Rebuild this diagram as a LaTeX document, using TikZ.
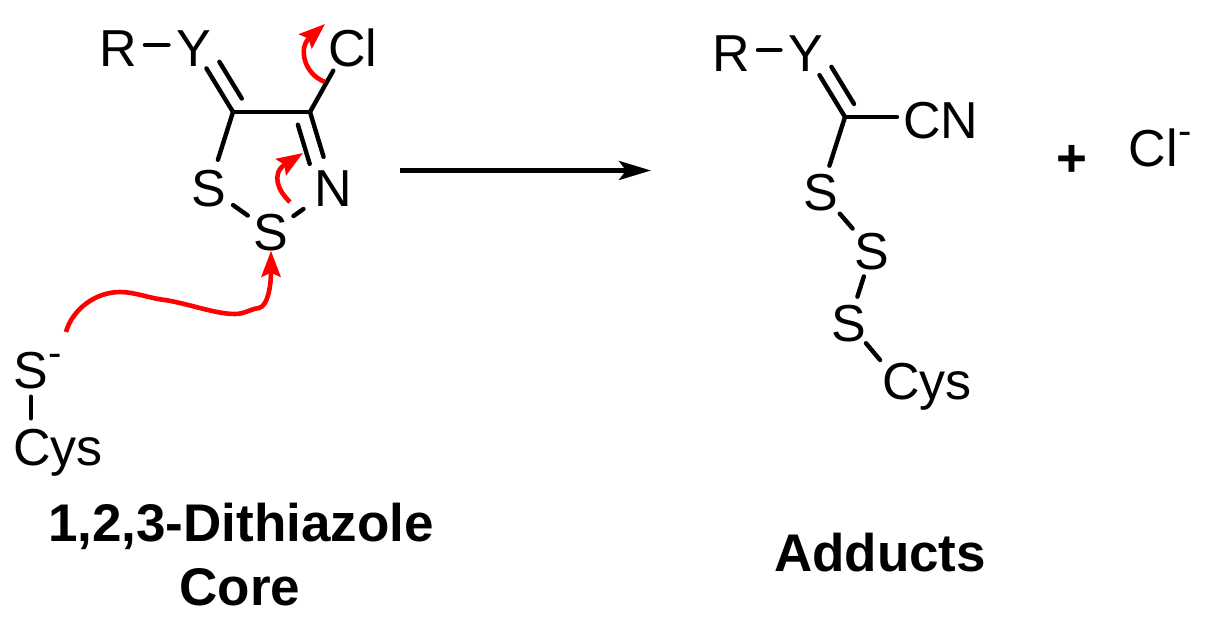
\documentclass[tikz,border=0pt]{standalone}
\usepackage{fontspec}
\setmainfont{Liberation Sans}
\usetikzlibrary{arrows.meta}
\definecolor{mechred}{RGB}{255,0,0}
\tikzset{
  atom/.style={font=\fontsize{52}{52}\selectfont, inner sep=0pt, text height=37pt, text depth=0pt},
  chain/.style={atom, anchor=west},
  charge/.style={font=\fontsize{40}{40}\selectfont, inner sep=0pt, anchor=base},
  caption/.style={font=\fontsize{53}{53}\selectfont\bfseries, inner sep=0pt, anchor=base},
  bond/.style={line width=4.4pt, line cap=round},
  pushred/.style={draw=mechred, line width=4.6pt, -{Stealth[length=26pt,width=19pt,inset=4pt]}},
  reactarrow/.style={draw=black, line width=4.4pt, -{Stealth[length=32pt,width=19pt,inset=7pt]}}
}
\begin{document}
\begin{tikzpicture}[x=1pt,y=-1pt]
\useasboundingbox (0,0) rectangle (1231,626);
% left structure
\node[atom] (R1) at (118,48) {R};
\node[atom] (Y1) at (194,48) {Y};
\node[atom] (Cl1) at (353,48) {Cl};
\node[atom] (S1) at (209,188) {S};
\node[atom] (N1) at (333,188) {N};
\node[atom] (S2) at (271,232) {S};
\node[atom] (Sm) at (31,370) {S};
\node[charge] (Smq) at (55.5,366) {-};
\node[chain] (Cys1) at (13,447) {Cys};
\coordinate (C1) at (233,112);
\coordinate (C2) at (310,112);
\draw[bond,shorten <=8pt,shorten >=8pt] ([yshift=3pt]R1.east) -- ([yshift=3pt]Y1.west);
\draw[bond,shorten >=2pt] (C1) -- (Y1);
\draw[bond,shorten <=7pt,shorten >=25pt] ([shift={(12.4pt,7.5pt)}]C1) -- ([shift={(12.4pt,7.5pt)}]Y1.center);
\draw[bond] (C1) -- (C2);
\draw[bond,shorten >=26pt] (C2) -- ([xshift=-7pt]Cl1.center);
\draw[bond,shorten >=13pt] (C2) -- (N1);
\draw[bond,shorten <=8.5pt,shorten >=30pt] ([shift={(-14.6pt,-4.6pt)}]C2) -- ([shift={(-14.6pt,-4.6pt)}]N1.center);
\draw[bond,shorten >=10pt] (C1) -- (S1);
\draw[bond,shorten <=8pt,shorten >=7pt] (S1) -- (S2);
\draw[bond,shorten <=6pt,shorten >=13pt] (S2) -- (N1);
\draw[bond,shorten <=8pt,shorten >=10pt] (Sm) -- (Sm |- Cys1.north);
% electron pushing
\coordinate (ClTip) at (325,24);
\coordinate (ClStart) at (325,82);
\coordinate (NTip) at (303,153);
\coordinate (NStart) at (290,202);
\coordinate (SStart) at (66,332);
\draw[pushred] (ClStart) .. controls (304,74) and (298,48) .. (ClTip);
\draw[pushred] (NStart) .. controls (279,192) and (270,174) .. (NTip);
\draw[pushred] (SStart) .. controls (72,310) and (95,292) .. (120,292)
  .. controls (135,292) and (148,298) .. (165,300)
  .. controls (190,304) and (215,314) .. (235,314)
  .. controls (245,314) and (250,309) .. (259,308)
  .. controls (268,306) and (271,285) .. (S2.south);
% reaction arrow
\coordinate (ArrowFrom) at (400,170.5);
\coordinate (ArrowTo) at (651,170.5);
\draw[reactarrow] (ArrowFrom) -- (ArrowTo);
% product
\node[atom] (R2) at (731,53) {R};
\node[atom] (Y2) at (806,53) {Y};
\node[chain] (CN) at (903,120) {CN};
\node[atom] (S4) at (821,192) {S};
\node[atom] (S5) at (872,251) {S};
\node[atom] (S6) at (849,323) {S};
\node[chain] (Cys2) at (882,381) {Cys};
\coordinate (C3) at (845,117);
\draw[bond,shorten <=8pt,shorten >=8pt] ([yshift=3pt]R2.east) -- ([yshift=3pt]Y2.west);
\draw[bond,shorten >=4pt] (C3) -- (Y2);
\draw[bond,shorten <=6.5pt,shorten >=25pt] ([shift={(12.4pt,7.5pt)}]C3) -- ([shift={(12.4pt,7.5pt)}]Y2.center);
\draw[bond,shorten >=6pt] (C3) -- (C3 -| CN.west);
\draw[bond,shorten >=8pt] (C3) -- (S4);
\draw[bond,shorten <=4pt,shorten >=5pt] (S4) -- (S5);
\draw[bond,shorten <=7pt,shorten >=8pt] (S5) -- (S6);
\draw[bond,shorten <=2pt,shorten >=3pt] (S6) -- (Cys2.north west);
% by-products
\node[caption] (Plus) at (1072,176) {+};
\node[atom] (Cl2) at (1153,148) {Cl};
\node[charge] (Clq) at (1185.5,144) {-};
% captions
\node[caption] (CoreA) at (241,541) {1,2,3-Dithiazole};
\node[caption] (CoreB) at (240,605) {Core};
\node[caption] (Add) at (880,571) {Adducts};
\end{tikzpicture}
\end{document}
